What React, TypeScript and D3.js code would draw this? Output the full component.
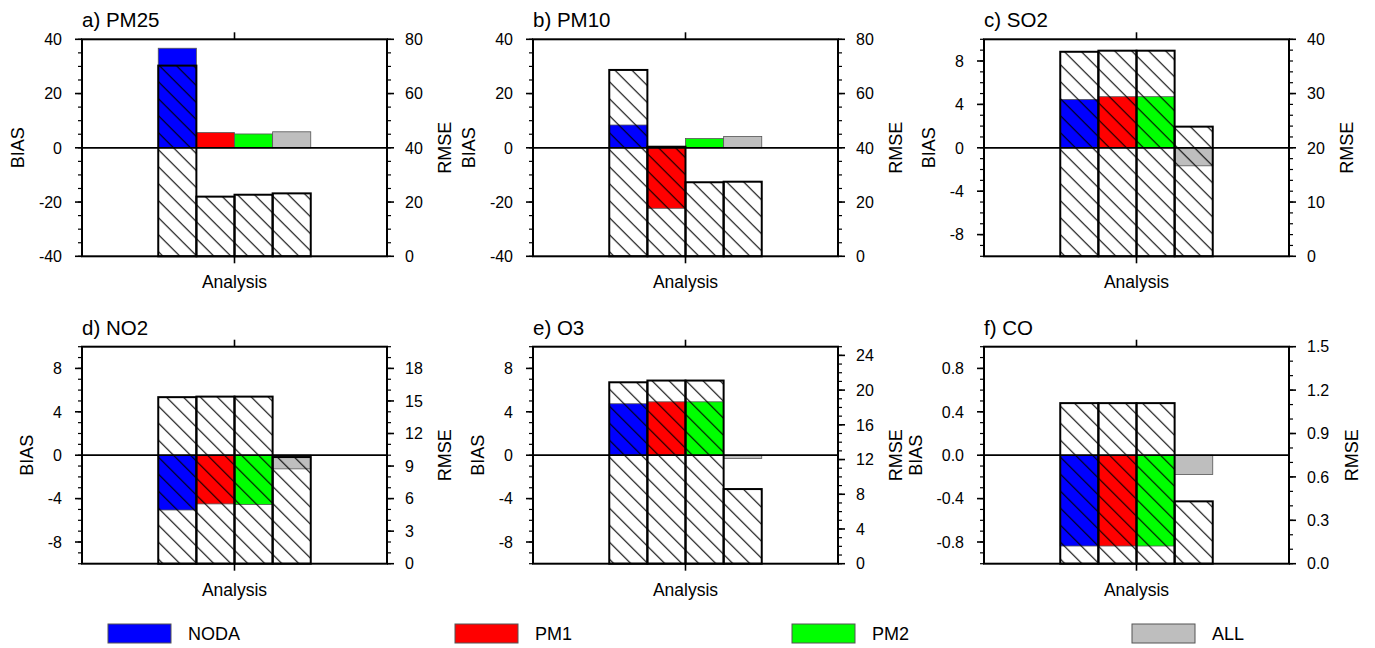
import React from "react";
import * as d3 from "d3";

const series = ["NODA", "PM1", "PM2", "ALL"];
const seriesColors = ["#0000ff", "#ff0000", "#00ff00", "#bebebe"];

const titles = ["a) PM25", "b) PM10", "c) SO2", "d) NO2", "e) O3", "f) CO"];

// BIAS (left axis) and RMSE (right axis), in order NODA, PM1, PM2, ALL
const biasPM25 = [36.7, 5.6, 5.1, 5.9];
const rmsePM25 = [70.3, 22.0, 22.7, 23.2];
const biasPM10 = [8.4, -22.3, 3.4, 4.2];
const rmsePM10 = [68.7, 40.4, 27.3, 27.5];
const biasSO2 = [4.46, 4.71, 4.71, -1.66];
const rmseSO2 = [37.7, 37.9, 37.9, 23.9];
const biasNO2 = [-5.05, -4.49, -4.55, -1.26];
const rmseNO2 = [15.35, 15.4, 15.4, 9.83];
const biasO3 = [4.74, 4.92, 4.92, -0.3];
const rmseO3 = [20.9, 21.1, 21.1, 8.6];
const biasCO = [-0.837, -0.837, -0.837, -0.178];
const rmseCO = [1.11, 1.11, 1.11, 0.431];

// axis ranges and ticks
const biasTicksPM = [-40, -20, 0, 20, 40];
const rmseTicksPM = [0, 20, 40, 60, 80];
const biasTicksGas = [-8, -4, 0, 4, 8];
const rmseTicksSO2 = [0, 10, 20, 30, 40];
const rmseTicksNO2 = [0, 3, 6, 9, 12, 15, 18];
const rmseTicksO3 = [0, 4, 8, 12, 16, 20, 24];
const biasTicksCO = [-0.8, -0.4, 0, 0.4, 0.8];
const rmseTicksCO = [0, 0.3, 0.6, 0.9, 1.2, 1.5];

const panels = [
  { title: titles[0], bias: biasPM25, rmse: rmsePM25, bDom: [-40, 40], rDom: [0, 80], bTicks: biasTicksPM, rTicks: rmseTicksPM, bMinor: 5, rMinor: 5, fmt: "d" },
  { title: titles[1], bias: biasPM10, rmse: rmsePM10, bDom: [-40, 40], rDom: [0, 80], bTicks: biasTicksPM, rTicks: rmseTicksPM, bMinor: 5, rMinor: 5, fmt: "d" },
  { title: titles[2], bias: biasSO2, rmse: rmseSO2, bDom: [-10, 10], rDom: [0, 40], bTicks: biasTicksGas, rTicks: rmseTicksSO2, bMinor: 1, rMinor: 2, fmt: "d" },
  { title: titles[3], bias: biasNO2, rmse: rmseNO2, bDom: [-10, 10], rDom: [0, 20], bTicks: biasTicksGas, rTicks: rmseTicksNO2, bMinor: 1, rMinor: 1, fmt: "d" },
  { title: titles[4], bias: biasO3, rmse: rmseO3, bDom: [-10, 10], rDom: [0, 25], bTicks: biasTicksGas, rTicks: rmseTicksO3, bMinor: 1, rMinor: 1, fmt: "d" },
  { title: titles[5], bias: biasCO, rmse: rmseCO, bDom: [-1, 1], rDom: [0, 1.5], bTicks: biasTicksCO, rTicks: rmseTicksCO, bMinor: 0.1, rMinor: 0.1, fmt: ".1f" },
];

const FONT = "'Liberation Sans', Arial, Helvetica, sans-serif";
const W = 1375;
const H = 648;
const plotW = 305;
const plotH = 217;
const lefts = [82, 533, 984];
const tops = [39.3, 346.7];
const tickFont = 16;

// rough Arial-like width estimate for numeric labels
const textWidth = (s: string, size: number) =>
  s.split("").reduce((acc, c) => acc + (c === "-" ? 0.333 : c === "." ? 0.278 : 0.556), 0) * size;

const minorValues = (dom: number[], step: number) => {
  const n = Math.round((dom[1] - dom[0]) / step);
  return d3.range(n + 1).map((i) => dom[0] + i * step);
};

const Panel = ({ p, x0, y0 }: any) => {
  const yB = d3.scaleLinear().domain(p.bDom).range([plotH, 0]);
  const yR = d3.scaleLinear().domain(p.rDom).range([plotH, 0]);
  const xOuter = d3.scaleLinear().domain([0, 1]).range([0, plotW]);
  const xBand = d3.scaleBand().domain(series).range([xOuter(0.25), xOuter(0.75)]).padding(0);
  const fmt = d3.format(p.fmt);
  const bLabels = p.bTicks.map((t: number) => fmt(t).replace("−", "-"));
  const rLabels = p.rTicks.map((t: number) => fmt(t).replace("−", "-"));
  const bMaxW = d3.max(bLabels, (s: string) => textWidth(s, tickFont)) as number;
  const rMaxW = d3.max(rLabels, (s: string) => textWidth(s, tickFont)) as number;
  const biasX = -20 - bMaxW - 21;
  const rmseX = plotW + 18 + rMaxW + 22;

  return (
    <g transform={`translate(${x0}, ${y0})`}>
      {/* bias bars */}
      {series.map((s, i) => {
        const v = p.bias[i];
        return (
          <rect
            key={`b-${s}`}
            x={xBand(s)}
            width={xBand.bandwidth()}
            y={Math.min(yB(0), yB(v))}
            height={Math.abs(yB(v) - yB(0))}
            fill={seriesColors[i]}
            stroke="#555"
            strokeWidth={0.8}
          />
        );
      })}
      {/* rmse bars (hatched) */}
      {series.map((s, i) => (
        <rect
          key={`r-${s}`}
          x={xBand(s)}
          width={xBand.bandwidth()}
          y={yR(p.rmse[i])}
          height={yR(0) - yR(p.rmse[i])}
          fill="url(#hatch)"
          stroke="#000"
          strokeWidth={2}
        />
      ))}
      {/* zero line */}
      <line x1={0} x2={plotW} y1={yB(0)} y2={yB(0)} stroke="#000" strokeWidth={1.8} />
      {/* frame */}
      <rect x={0} y={0} width={plotW} height={plotH} fill="none" stroke="#000" strokeWidth={2} />

      {/* left minor ticks */}
      {minorValues(p.bDom, p.bMinor).map((t, i) => (
        <line key={`bm-${i}`} x1={-4} x2={0} y1={yB(t)} y2={yB(t)} stroke="#000" strokeWidth={1.2} />
      ))}
      {/* right minor ticks */}
      {minorValues(p.rDom, p.rMinor).map((t, i) => (
        <line key={`rm-${i}`} x1={plotW} x2={plotW + 4} y1={yR(t)} y2={yR(t)} stroke="#000" strokeWidth={1.2} />
      ))}
      {/* left major ticks + labels */}
      {p.bTicks.map((t: number, i: number) => (
        <g key={`bt-${i}`}>
          <line x1={-7} x2={0} y1={yB(t)} y2={yB(t)} stroke="#000" strokeWidth={1.6} />
          <text x={-20} y={yB(t)} dy="0.36em" textAnchor="end" fontSize={tickFont} fontFamily={FONT} fill="#000">
            {bLabels[i]}
          </text>
        </g>
      ))}
      {/* right major ticks + labels */}
      {p.rTicks.map((t: number, i: number) => (
        <g key={`rt-${i}`}>
          <line x1={plotW} x2={plotW + 7} y1={yR(t)} y2={yR(t)} stroke="#000" strokeWidth={1.6} />
          <text x={plotW + 18} y={yR(t)} dy="0.36em" textAnchor="start" fontSize={tickFont} fontFamily={FONT} fill="#000">
            {rLabels[i]}
          </text>
        </g>
      ))}
      {/* x ticks at category center */}
      <line x1={xOuter(0.5)} x2={xOuter(0.5)} y1={-7} y2={0} stroke="#000" strokeWidth={1.6} />
      <line x1={xOuter(0.5)} x2={xOuter(0.5)} y1={plotH} y2={plotH + 7} stroke="#000" strokeWidth={1.6} />
      <text x={xOuter(0.5)} y={plotH + 32} textAnchor="middle" fontSize={17.5} fontFamily={FONT} fill="#000">
        Analysis
      </text>

      {/* title */}
      <text x={0} y={-12} fontSize={20.5} fontFamily={FONT} fill="#000">
        {p.title}
      </text>

      {/* axis titles */}
      <text
        transform={`translate(${biasX}, ${plotH / 2}) rotate(-90)`}
        dy="0.36em"
        textAnchor="middle"
        fontSize={18}
        fontFamily={FONT}
        fill="#000"
      >
        BIAS
      </text>
      <text
        transform={`translate(${rmseX}, ${plotH / 2}) rotate(-90)`}
        dy="0.36em"
        textAnchor="middle"
        fontSize={18}
        fontFamily={FONT}
        fill="#000"
      >
        RMSE
      </text>
    </g>
  );
};

const legendX = [108, 455, 792, 1132];

const App = () => {
  return (
    <svg width={W} height={H} style={{ position: "absolute", left: 0, top: 0, background: "#fff" }}>
      <defs>
        <pattern id="hatch" patternUnits="userSpaceOnUse" width={17} height={17}>
          <path d="M0,0L17,17M-4,13L4,21M13,-4L21,4" stroke="#000" strokeWidth={1.1} fill="none" />
        </pattern>
      </defs>
      <rect x={0} y={0} width={W} height={H} fill="#fff" />

      {panels.map((p, i) => (
        <Panel key={p.title} p={p} x0={lefts[i % 3]} y0={tops[Math.floor(i / 3)]} />
      ))}

      {/* Legend */}
      {series.map((s, i) => (
        <g key={`leg-${s}`} transform={`translate(${legendX[i]}, 624)`}>
          <rect width={63} height={19} fill={seriesColors[i]} stroke="#555" strokeWidth={1} />
          <text x={80} y={16} fontSize={18} fontFamily={FONT} fill="#000">
            {s}
          </text>
        </g>
      ))}
    </svg>
  );
};

export default App;
